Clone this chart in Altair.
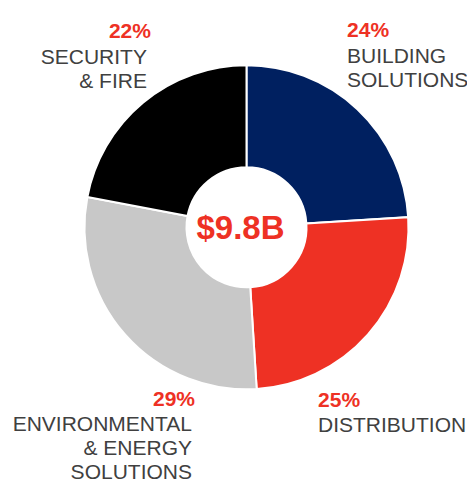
import altair as alt
import pandas as pd

# ---- data ----
categories = ["BUILDING SOLUTIONS", "DISTRIBUTION",
              "ENVIRONMENTAL & ENERGY SOLUTIONS", "SECURITY & FIRE"]
label_lines = ["BUILDING\nSOLUTIONS", "DISTRIBUTION",
               "ENVIRONMENTAL\n& ENERGY\nSOLUTIONS", "SECURITY\n& FIRE"]
shares = [24, 25, 29, 22]
total_label = "$9.8B"

# ---- style / layout ----
colors = ["#002060", "#EE3124", "#C8C8C8", "#000000"]
RED = "#EE3124"
GREY_TEXT = "#404040"
FONT = "Liberation Sans"
W, H = 459, 474
CX, CY = 238.5, 219.3
R_OUT, R_IN, R_LAB = 162, 60, 180
# per-slice label placement: align, pct (dx, dy), name (dx, dy)
label_layout = [
    ("left", (-22.7, -59.1), (-22.7, -33.1)),
    ("left", (-63.5, 60.7), (-63.5, 85.7)),
    ("right", (83.5, 59.7), (80.5, 84.7)),
    ("right", (19.2, -50.6), (15.2, -24.6)),
]

df = pd.DataFrame({
    "category": categories,
    "label": label_lines,
    "share": shares,
    "order": list(range(len(categories))),
})

base = alt.Chart(df)

arc = base.mark_arc(innerRadius=R_IN, outerRadius=R_OUT, stroke="white",
                    strokeWidth=2).encode(
    theta=alt.Theta("share:Q", stack=True),
    color=alt.Color("category:N",
                    scale=alt.Scale(domain=categories, range=colors),
                    legend=None),
    order=alt.Order("order:Q"),
    x=alt.value(CX),
    y=alt.value(CY),
)

lab_base = base.transform_window(
    cum="sum(share)", sort=[alt.SortField("order", order="ascending")]
).transform_joinaggregate(
    total="sum(share)"
).transform_calculate(
    mid="(datum.cum - datum.share / 2) / datum.total * 2 * PI",
    pct="datum.share + '%'",
)

layers = [arc]
for i, (align, (pdx, pdy), (ndx, ndy)) in enumerate(label_layout):
    sub = lab_base.transform_filter(alt.datum.order == i)
    pct = sub.mark_text(align=align, baseline="alphabetic", dx=pdx, dy=pdy,
                        fontSize=21, fontWeight="bold", color=RED,
                        font=FONT).encode(
        theta=alt.Theta("mid:Q", scale=None, stack=False),
        radius=alt.value(R_LAB),
        x=alt.value(CX), y=alt.value(CY),
        text="pct:N",
    )
    name = sub.mark_text(align=align, baseline="alphabetic", dx=ndx, dy=ndy,
                         fontSize=21, color=GREY_TEXT, font=FONT,
                         lineBreak="\n", lineHeight=24).encode(
        theta=alt.Theta("mid:Q", scale=None, stack=False),
        radius=alt.value(R_LAB),
        x=alt.value(CX), y=alt.value(CY),
        text="label:N",
    )
    layers += [pct, name]

center = alt.Chart(pd.DataFrame({"t": [total_label]})).mark_text(
    align="center", baseline="alphabetic", dx=-6, dy=12,
    fontSize=33, fontWeight="bold", color=RED, font=FONT,
).encode(text="t:N", x=alt.value(CX), y=alt.value(CY))
layers.append(center)

chart = alt.layer(*layers).resolve_scale(theta="independent").properties(
    width=W, height=H, autosize="none", padding=0
).configure_view(stroke=None)

chart.save("out.html", embed_options={"renderer": "svg", "actions": False})
